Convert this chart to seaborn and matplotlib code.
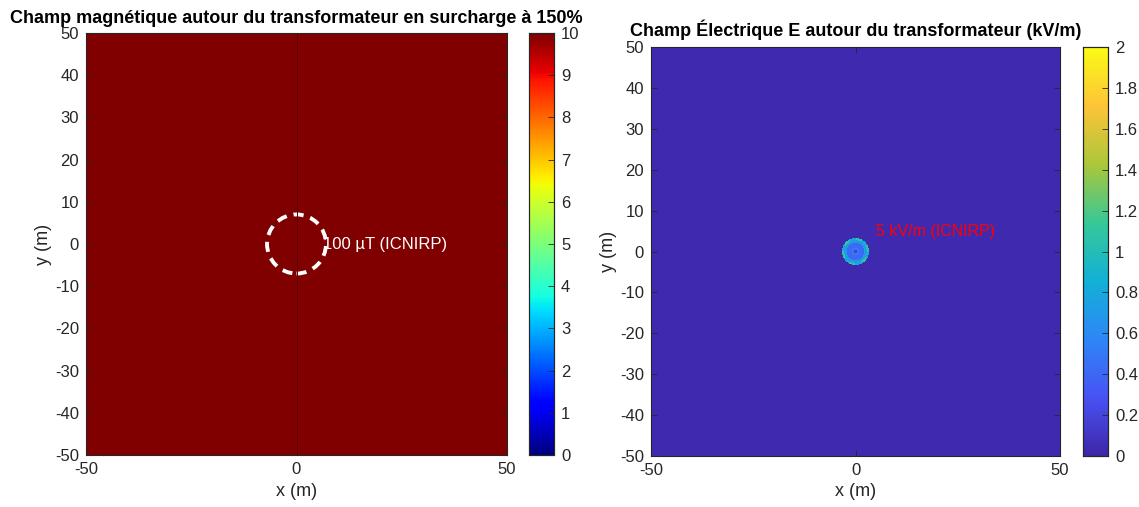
import numpy as np
import pandas as pd
import seaborn as sns
import matplotlib
matplotlib.use("Agg")
from matplotlib import pyplot as plt
from matplotlib.colors import LinearSegmentedColormap
from matplotlib.patches import Circle

# grid spacing of the field maps (m)
step = 0.25
x_m = np.arange(-50, 50 + step, step)
y_m = np.arange(-50, 50 + step, step)

# magnetic field: ring outer radius (m) -> B (uT), everything here >= 10 (saturated)
b_ring_r = [1, 2, 5, 7, 10, 20, 30, 40, 50, 60, 75]
b_ring_uT = [700, 350, 140, 100, 70, 35, 23, 17.5, 14, 11.7, 10.5]
b_limit_uT = 100
b_limit_r = 7  # radius of the 100 uT contour (m)

# electric field: ring outer radius (m) -> E (kV/m)
e_ring_r = [0.4, 1.0, 2.2, 2.8, 3.4, 75]
e_ring_kVm = [0.15, 0.5, 0.42, 0.7, 0.85, 0.03]
# rim lobes (ring 2.8-3.4 m), value per angular sector
e_rim_lobes = [1.1, 0.8, 1.1, 0.8, 1.1, 0.8, 1.1, 0.8, 1.1, 0.8, 1.1, 0.8]

b_ticks = [0, 1, 2, 3, 4, 5, 6, 7, 8, 9, 10]
e_ticks = [0, 0.2, 0.4, 0.6, 0.8, 1, 1.2, 1.4, 1.6, 1.8, 2]
xy_ticks_x = [-50, 0, 50]
xy_ticks_y = [-50, -40, -30, -20, -10, 0, 10, 20, 30, 40, 50]

parula = LinearSegmentedColormap.from_list("parula", [
    (0.2422, 0.1504, 0.6603), (0.2810, 0.3228, 0.9579), (0.1786, 0.5289, 0.9682),
    (0.0689, 0.6948, 0.8394), (0.2161, 0.7843, 0.5923), (0.6720, 0.7793, 0.2227),
    (0.9970, 0.7659, 0.2199), (0.9769, 0.9839, 0.0805)])

X, Y = np.meshgrid(x_m, y_m)
R = np.hypot(X, Y)
TH = np.mod(np.arctan2(Y, X), 2 * np.pi)

B = np.array(b_ring_uT)[np.clip(np.digitize(R, b_ring_r), 0, len(b_ring_uT) - 1)]
E = np.array(e_ring_kVm)[np.clip(np.digitize(R, e_ring_r), 0, len(e_ring_kVm) - 1)]
sector = (TH / (2 * np.pi) * len(e_rim_lobes)).astype(int) % len(e_rim_lobes)
rim = (R >= 2.8) & (R < 3.4)
E[rim] = np.array(e_rim_lobes)[sector[rim]]

dfB = pd.DataFrame(B, index=y_m, columns=x_m)
dfE = pd.DataFrame(E, index=y_m, columns=x_m)

plt.rcParams['font.family'] = ['Liberation Sans', 'DejaVu Sans']
fig = plt.figure(figsize=(11.39, 5.07), dpi=100)
W, H = 1139, 507


def box(x0, y0, x1, y1):
    return [x0 / W, 1 - y1 / H, (x1 - x0) / W, (y1 - y0) / H]


axL = fig.add_axes(box(86, 33, 507, 455))
cL = fig.add_axes(box(529, 33, 554, 455))
axR = fig.add_axes(box(651, 47, 1060, 456))
cR = fig.add_axes(box(1083, 47, 1108, 456))


def pos(v):
    return (v + 50) / step + 0.5


def style(ax, cax, ticks, title, tpad):
    ax.set_xlim(pos(-50), pos(50))
    ax.set_ylim(pos(-50), pos(50))
    ax.set_xticks([pos(v) for v in xy_ticks_x])
    ax.set_xticklabels([str(v) for v in xy_ticks_x], rotation=0)
    ax.set_yticks([pos(v) for v in xy_ticks_y])
    ax.set_yticklabels([str(v) for v in xy_ticks_y], rotation=0)
    ax.tick_params(direction='in', top=True, right=True, length=4, width=0.6,
                   labelsize=12, color='#262626', labelcolor='#262626', pad=5)
    for s in ax.spines.values():
        s.set_visible(True)
        s.set_color('#262626')
        s.set_linewidth(0.8)
    ax.set_xlabel('x (m)', fontsize=13, color='#262626', labelpad=4)
    ax.set_ylabel('y (m)', fontsize=13, color='#262626', labelpad=2)
    ax.set_title(title, fontsize=13, fontweight='bold', pad=tpad)
    cax.set_yticks(ticks)
    cax.set_yticklabels([f'{t:g}' for t in ticks])
    cax.tick_params(direction='in', length=4, width=0.6, labelsize=12,
                    color='#262626', labelcolor='#262626', pad=5)
    for s in cax.spines.values():
        s.set_visible(True)
        s.set_color('#262626')
        s.set_linewidth(0.8)


sns.heatmap(dfB, ax=axL, cbar_ax=cL, cmap='jet', vmin=0, vmax=10,
            xticklabels=False, yticklabels=False, rasterized=True)
sns.heatmap(dfE, ax=axR, cbar_ax=cR, cmap=parula, vmin=0, vmax=2,
            xticklabels=False, yticklabels=False, rasterized=True)

style(axL, cL, b_ticks, 'Champ magnétique autour du transformateur en surcharge à 150%', 7)
style(axR, cR, e_ticks, 'Champ Électrique E autour du transformateur (kV/m)', 8)

axL.axvline(pos(0), color='#5a0000', lw=0.7)
axL.add_patch(Circle((pos(0), pos(0)), b_limit_r / step, fill=False, ec='white',
                     lw=2.8, ls=(0, (2.6, 1.8))))
axL.text(pos(6.3), pos(0), f'{b_limit_uT} µT (ICNIRP)', color='white', fontsize=12,
         ha='left', va='center')
axR.text(pos(5), pos(5), '5 kV/m (ICNIRP)', color='red', fontsize=11.5,
         ha='left', va='center')

fig.savefig('out.png', dpi=100)
